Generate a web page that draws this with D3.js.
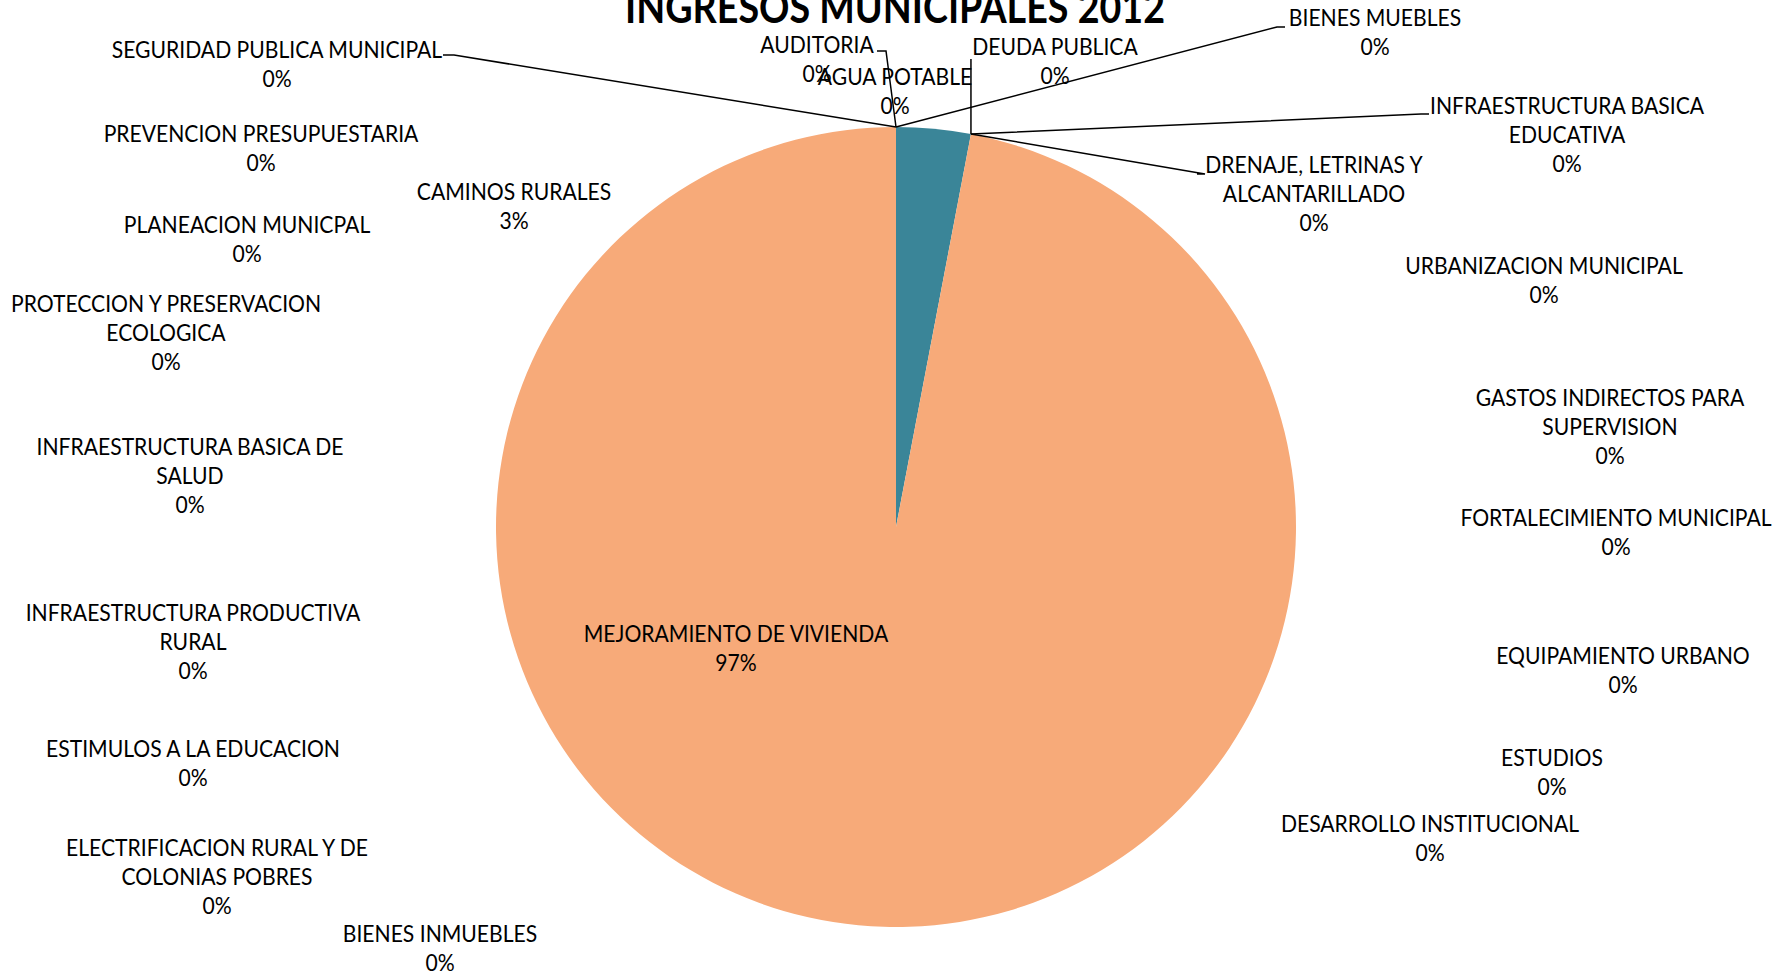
<!DOCTYPE html>
<html>
<head>
<meta charset="utf-8">
<script src="https://cdn.jsdelivr.net/npm/d3@7"></script>
<style>
  body{margin:0;background:#fff;}
  .lbl{font-family:Lato,"Open Sans",sans-serif;font-size:24px;fill:#000;}
  .title{font-family:Lato,"Open Sans",sans-serif;font-weight:bold;font-size:43px;fill:#000;}
</style>
</head>
<body>
<svg id="chart" width="1791" height="973"></svg>
<script>
// slices in the order Excel draws them, clockwise from 12 o'clock
var categories = [
  "SEGURIDAD PUBLICA MUNICIPAL","AUDITORIA","AGUA POTABLE","BIENES MUEBLES",
  "CAMINOS RURALES","DEUDA PUBLICA","INFRAESTRUCTURA BASICA EDUCATIVA",
  "DRENAJE, LETRINAS Y ALCANTARILLADO","MEJORAMIENTO DE VIVIENDA",
  "URBANIZACION MUNICIPAL","GASTOS INDIRECTOS PARA SUPERVISION",
  "FORTALECIMIENTO MUNICIPAL","EQUIPAMIENTO URBANO","ESTUDIOS",
  "DESARROLLO INSTITUCIONAL","BIENES INMUEBLES",
  "ELECTRIFICACION RURAL Y DE COLONIAS POBRES","ESTIMULOS A LA EDUCACION",
  "INFRAESTRUCTURA PRODUCTIVA RURAL","INFRAESTRUCTURA BASICA DE SALUD",
  "PROTECCION Y PRESERVACION ECOLOGICA","PLANEACION MUNICPAL",
  "PREVENCION PRESUPUESTARIA"
];
var values = [0,0,0,0,3,0,0,0,97,0,0,0,0,0,0,0,0,0,0,0,0,0,0];
// number of words on the first line of each label (0 = no wrap)
var wrapAfter = [0,0,0,0,0,0,2,3,0,0,3,0,0,0,0,0,4,0,2,3,3,0,0];

var sliceColours = {"CAMINOS RURALES":"#3a8598","MEJORAMIENTO DE VIVIENDA":"#f7aa79"};

// label placement (centre x, centre of first line)
var labelPos = [
  [277,50],[817,45],[895,77],[1375,18],[514,192],[1055,47],[1567,106],
  [1314,165],[736,634],[1544,266],[1610,398],[1616,518],[1623,656],
  [1552,758],[1430,824],[440,934],[217,848],[193,749],[193,613],
  [190,447],[166,304],[247,225],[261,134]
];
// leader elbows: label side points, the last point goes to the slice edge
var leaders = {
  "SEGURIDAD PUBLICA MUNICIPAL":[[443,55],[454,55]],
  "AUDITORIA":[[877,51],[886,51]],
  "BIENES MUEBLES":[[1285,27],[1277,27]],
  "DEUDA PUBLICA":[[null,59]],
  "INFRAESTRUCTURA BASICA EDUCATIVA":[[1429,114],[1421,114]],
  "DRENAJE, LETRINAS Y ALCANTARILLADO":[[1197,174],[1205,174]]
};

var width = 1791, height = 973,
    cx = 896, cy = 527, radius = 400, lineH = 29,
    squeeze = 0.88; // Calibri-like narrow letters

var svg = d3.select("#chart");
var data = categories.map(function(c,i){return {name:c, value:values[i], i:i};});
var total = d3.sum(values);
var pct = d3.format(".0%");

var pie = d3.pie().sort(null).value(function(d){return d.value;});
var arcs = pie(data);
var arc = d3.arc().innerRadius(0).outerRadius(radius);

var g = svg.append("g").attr("transform","translate("+cx+","+cy+")");
g.selectAll("path.slice")
  .data(arcs.filter(function(d){return d.data.value>0;}))
  .enter().append("path").attr("class","slice")
  .attr("d",arc)
  .attr("fill",function(d){return sliceColours[d.data.name];});

//Leader lines
function edgePoint(a){
  return [cx + radius*Math.sin(a.endAngle), cy - radius*Math.cos(a.endAngle)];
}
var lineGen = d3.line();
arcs.forEach(function(a){
  var pts = leaders[a.data.name];
  if(!pts) return;
  var edge = edgePoint(a);
  var p = pts.map(function(q){return [q[0]===null?edge[0]:q[0], q[1]];});
  p.push(edge);
  svg.append("path").attr("d",lineGen(p))
    .attr("fill","none").attr("stroke","#000").attr("stroke-width",1.5);
});

//Labels
var labels = svg.selectAll("g.lblg").data(arcs).enter().append("g")
  .attr("class","lblg")
  .attr("transform",function(a){
    var p = labelPos[a.data.i];
    return "translate("+p[0]+","+(p[1]+8)+") scale("+squeeze+",1)";
  })
  .append("text").attr("class","lbl").attr("text-anchor","middle");
labels.each(function(a){
  var t = d3.select(this), i = a.data.i,
      words = a.data.name.split(" "),
      lines = wrapAfter[i] ? [words.slice(0,wrapAfter[i]).join(" "), words.slice(wrapAfter[i]).join(" ")] : [a.data.name];
  lines.push(pct(a.data.value/total));
  lines.forEach(function(l,k){
    t.append("tspan").attr("x",0).attr("y",k*lineH).text(l);
  });
});

svg.append("text").attr("class","title")
  .attr("x",895).attr("y",23).attr("text-anchor","middle")
  .attr("textLength",540).attr("lengthAdjust","spacingAndGlyphs")
  .text("INGRESOS MUNICIPALES 2012");
</script>
</body>
</html>
